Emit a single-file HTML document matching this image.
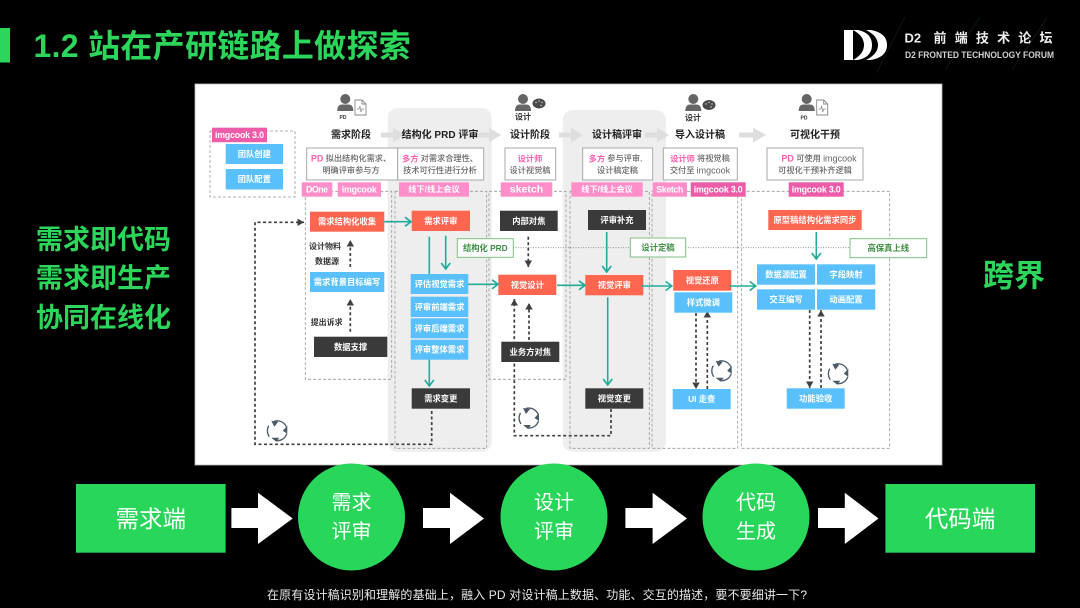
<!DOCTYPE html>
<html lang="zh">
<head>
<meta charset="utf-8">
<title>1.2 站在产研链路上做探索</title>
<style>
html,body{margin:0;padding:0;background:#000;width:1080px;height:608px;overflow:hidden}
svg{display:block}
text{font-family:"Liberation Sans","Noto Sans CJK SC",sans-serif;text-anchor:middle;dominant-baseline:central}
.n{font-size:8.3px;font-weight:700;fill:#fff}
.h{font-size:10px;font-weight:700;fill:#222}
.d{font-size:8.200px;fill:#666;font-weight:500}
.p{fill:#ff5fae;font-weight:700}
.l{font-size:9px}
.t{font-size:8.200px;font-weight:700;fill:#fff}
.tm{font-size:8.800px;font-weight:700;fill:#fff}
.g{font-size:8.3px;font-weight:700;fill:#3c8c42}
.k{font-size:8px;font-weight:700;fill:#333}
.big{font-weight:700;fill:#2bd65b}
.w{font-size:20px;fill:#fff}
.r{fill:#ff6650}.b{fill:#5ac0fb}.x{fill:#3a3a3a}
.tl{fill:#ff8fcb}.td{fill:#ec5ca8}
.dash{fill:none;stroke:#999;stroke-width:.8;stroke-dasharray:3 2}
.teal{fill:none;stroke:#22ab9b;stroke-width:1.6}
.bk{fill:none;stroke:#404040;stroke-width:1.7;stroke-dasharray:3 2.5}
.box{fill:#fff;stroke:#a8a8a8;stroke-width:1}
.gb{fill:#fff;stroke:#7fbd84;stroke-width:1}
</style>
</head>
<body>
<svg width="1080" height="608" viewBox="0 0 1080 608" xmlns="http://www.w3.org/2000/svg">
<defs>
<marker id="ta" markerUnits="userSpaceOnUse" markerWidth="12" markerHeight="14" refX="9" refY="6" orient="auto"><path d="M3,1.500 L9,6 L3,10.500" fill="none" stroke="#22ab9b" stroke-width="1.7"/></marker>
<marker id="ba" markerUnits="userSpaceOnUse" markerWidth="9" markerHeight="9" refX="6.500" refY="4" orient="auto"><path d="M0,0.300 L6.500,4 L0,7.700 Z" fill="#404040"/></marker>
<g id="cyc">
<path d="M-3,-9.500 A10,10 0 0 1 9,-4 M9.500,3 A10,10 0 0 1 -1,10 M-8,6 A10,10 0 0 1 -8.500,-5" fill="none" stroke="#4a5a68" stroke-width="1.300"/>
<path d="M-6,-10 L1,-9 L-3,-4 Z M10,-5 L10,3 L5.500,0 Z M-6,7 L2,7 L-1,11 Z" fill="#4a5a68"/>
</g>
<g id="person">
<circle cx="0" cy="0" r="5" fill="#666"/>
<path d="M-8,12 Q-8,5.500 -3,5.500 L3,5.500 Q8,5.500 8,12 Z" fill="#666"/>
</g>
<g id="doc">
<path d="M0,0 H7 L11,4 V15 H0 Z M7,0 V4 H11" fill="#fff" stroke="#888" stroke-width=".9"/>
<path d="M2,9 H4 L5,6 L6,12 L7,9 H9" fill="none" stroke="#888" stroke-width=".7"/>
</g>
<g id="pal">
<ellipse cx="0" cy="0" rx="6.500" ry="5" fill="#484848"/>
<circle cx="-3" cy="-1" r=".7" fill="#ddd"/><circle cx="0" cy="-2.500" r=".7" fill="#ddd"/><circle cx="3" cy="-1" r=".7" fill="#ddd"/><circle cx="2" cy="2" r=".7" fill="#ddd"/>
</g>
<path id="ga" d="M0,-2.500 H12 V-7.500 L24,0 L12,7.500 V2.500 H0 Z" fill="#dedede"/>
</defs>

<rect width="1080" height="608" fill="#000"/>

<!-- title -->
<rect x="0" y="28" width="10" height="34.500" fill="#2bd65b"/>
<text x="33.500" y="46" class="big" font-size="32" letter-spacing=".3" style="text-anchor:start">1.2 站在产研链路上做探索</text>

<!-- logo -->
<g stroke="#0e2119" stroke-width=".7"><line x1="905" y1="17" x2="877" y2="72"/><line x1="980" y1="17" x2="945" y2="70"/><line x1="1047" y1="18" x2="1012" y2="70"/></g>
<path d="M844,30 H853 V60 H844 Z" fill="#fff"/>
<path d="M853,30 H858 Q872,33 872,45 Q872,57 858,60 H853 Q864,54 864,45 Q864,36 853,30 Z" fill="#fff"/>
<path d="M866,30 H871 Q887,33 887,45 Q887,57 871,60 H866 Q878,54 878,45 Q878,36 866,30 Z" fill="#fff"/>
<text x="904.500" y="38" font-size="13" font-weight="700" fill="#eee" style="text-anchor:start">D2</text>
<text x="933.500" y="38" font-size="13" font-weight="700" fill="#eee" letter-spacing="8.200" style="text-anchor:start">前端技术论坛</text>
<text x="905" y="55" font-size="8.800" font-weight="700" fill="#d0d0d0" style="text-anchor:start" textLength="149" lengthAdjust="spacingAndGlyphs">D2 FRONTED TECHNOLOGY FORUM</text>

<!-- side text -->
<text x="103.500" y="240" class="big" font-size="27">需求即代码</text>
<text x="103.500" y="278.500" class="big" font-size="27">需求即生产</text>
<text x="103.500" y="318" class="big" font-size="27">协同在线化</text>
<text x="1014" y="276" class="big" font-size="31">跨界</text>

<!-- panel -->
<g style="filter:blur(.35px)">
<rect x="195" y="84" width="747" height="381" fill="#fff" stroke="#bbb" stroke-width=".8"/>
<rect x="387.700" y="108" width="104" height="343.700" rx="10" fill="#eee"/>
<rect x="562.700" y="110" width="103.300" height="341.700" rx="10" fill="#eee"/>

<!-- dashed regions -->
<rect x="210" y="131" width="85" height="66" class="dash"/>
<rect x="305.300" y="191.300" width="86.400" height="188" class="dash"/>
<rect x="395" y="191.300" width="91.700" height="257" class="dash"/>
<rect x="489" y="191.300" width="77" height="188" class="dash"/>
<rect x="570" y="191.300" width="79.300" height="257" class="dash"/>
<rect x="652" y="191.300" width="85.700" height="257" class="dash"/>
<rect x="741.700" y="191.300" width="148" height="257" class="dash"/>

<!-- header arrows -->
<use href="#ga" x="381" y="135"/>
<use href="#ga" x="477" y="135"/>
<use href="#ga" x="559" y="135"/>
<use href="#ga" x="645" y="135"/>
<path d="M739,132.500 H753 V127.500 L766,135 L753,142.500 V137.500 H739 Z" fill="#dedede"/>

<!-- persons -->
<use href="#person" x="345.300" y="99"/><use href="#doc" x="355" y="100"/>
<text x="343" y="118" font-size="5" font-weight="700" fill="#333">PD</text>
<use href="#person" x="523" y="99"/><use href="#pal" x="539" y="103.500"/>
<text x="523" y="117" class="k">设计</text>
<use href="#person" x="693.300" y="99"/><use href="#pal" x="709" y="105"/>
<text x="693" y="118" class="k">设计</text>
<use href="#person" x="806.700" y="99"/><use href="#doc" x="816.700" y="100"/>
<text x="804" y="118.500" font-size="5" font-weight="700" fill="#333">PD</text>

<!-- headers -->
<text x="351" y="135.500" class="h">需求阶段</text>
<text x="440" y="135.500" class="h">结构化 PRD 评审</text>
<text x="530" y="135.500" class="h">设计阶段</text>
<text x="617" y="135.500" class="h">设计稿评审</text>
<text x="700" y="135.500" class="h">导入设计稿</text>
<text x="815" y="135.500" class="h">可视化干预</text>

<!-- description boxes -->
<rect x="306.700" y="148" width="91" height="32" class="box"/>
<rect x="397.700" y="148" width="86" height="32" class="box"/>
<rect x="505" y="148" width="50.700" height="32" class="box"/>
<rect x="582.700" y="148" width="70" height="32" class="box"/>
<rect x="663.300" y="148" width="74" height="32" class="box"/>
<rect x="767" y="148" width="96" height="32" class="box"/>
<text x="351" y="158.700" class="d"><tspan class="p l">PD</tspan> 拟出结构化需求、</text>
<text x="351" y="170.700" class="d">明确评审参与方</text>
<text x="440" y="158.700" class="d"><tspan class="p">多方</tspan> 对需求合理性、</text>
<text x="440" y="170.700" class="d">技术可行性进行分析</text>
<text x="530" y="158.700" class="d"><tspan class="p">设计师</tspan></text>
<text x="530" y="170.700" class="d">设计视觉稿</text>
<text x="615.500" y="158.700" class="d"><tspan class="p">多方</tspan> 参与评审,</text>
<text x="617.500" y="170.700" class="d">设计稿定稿</text>
<text x="700" y="158.700" class="d"><tspan class="p">设计师</tspan> 将视觉稿</text>
<text x="700" y="170.700" class="d">交付至 <tspan class="l">imgcook</tspan></text>
<text x="819" y="158.700" class="d"><tspan class="p l">PD</tspan> 可使用 <tspan class="l">imgcook</tspan></text>
<text x="815" y="170.700" class="d">可视化干预补齐逻辑</text>

<!-- tags -->
<rect x="212" y="127.700" width="55" height="14.500" class="td"/><text x="239.500" y="135" class="tm" textLength="49">imgcook 3.0</text>
<rect x="301.700" y="182.300" width="30.600" height="14.400" class="tl"/><text x="317" y="189.500" class="tm" textLength="22">DOne</text>
<rect x="337.700" y="182.300" width="43.300" height="14.400" class="tl"/><text x="359.300" y="189.500" class="tm" textLength="35">imgcook</text>
<rect x="399" y="182.300" width="70" height="14.400" class="tl"/><text x="434" y="189.500" class="t">线下/线上会议</text>
<rect x="500.700" y="182.300" width="51.600" height="14.400" class="tl"/><text x="526.500" y="189.500" font-size="10.500" font-weight="700" fill="#fff">sketch</text>
<rect x="571.300" y="182.300" width="71.400" height="14.400" class="tl"/><text x="607" y="189.500" class="t">线下/线上会议</text>
<rect x="652.700" y="182.300" width="34.300" height="14.400" class="tl"/><text x="669.800" y="189.500" class="tm" textLength="27">Sketch</text>
<rect x="690.700" y="182.300" width="55" height="14.400" class="td"/><text x="718.200" y="189.500" class="tm" textLength="49">imgcook 3.0</text>
<rect x="788.700" y="182.300" width="55" height="14.400" class="td"/><text x="816.200" y="189.500" class="tm" textLength="49">imgcook 3.0</text>

<!-- dotted baseline + green labels -->
<line x1="513" y1="247.700" x2="850" y2="247.700" stroke="#888" stroke-width=".8" stroke-dasharray="1 1.500"/>
<rect x="457.300" y="238.700" width="56" height="18.600" class="gb"/><text x="485.300" y="248" class="g">结构化 PRD</text>
<rect x="630.300" y="238" width="55.400" height="19" class="gb"/><text x="658" y="247.500" class="g">设计定稿</text>
<rect x="850" y="238.700" width="76.700" height="19" class="gb"/><text x="888.300" y="248.200" class="g">高保真上线</text>

<!-- black dashed connectors -->
<path d="M431.700,411 V444.300 H255 V222.300 H304" class="bk" marker-end="url(#ba)"/>
<path d="M350.300,267 V240" class="bk" marker-end="url(#ba)"/>
<path d="M350.300,331.700 V299" class="bk" marker-end="url(#ba)"/>
<path d="M528.300,236.700 V267" class="bk" marker-end="url(#ba)"/>
<path d="M529,340 V303" class="bk" marker-end="url(#ba)"/>
<path d="M611,409 V435.700 H514.300 V299" class="bk" marker-end="url(#ba)"/>
<path d="M696,313 V389" class="bk" marker-end="url(#ba)"/>
<path d="M707.300,389 V311" class="bk" marker-end="url(#ba)"/>
<path d="M809.700,310 V388" class="bk" marker-end="url(#ba)"/>
<path d="M821,388 V310" class="bk" marker-end="url(#ba)"/>

<!-- nodes -->
<rect x="310" y="211.700" width="74.300" height="20" class="r"/><text x="347" y="221.700" class="n">需求结构化收集</text>
<rect x="411.700" y="210.700" width="58.300" height="20.300" class="r"/><text x="440.800" y="220.800" class="n">需求评审</text>
<rect x="500" y="210.700" width="57.700" height="20.300" class="x"/><text x="528.800" y="220.800" class="n">内部对焦</text>
<rect x="588" y="210" width="58" height="20" class="x"/><text x="617" y="220" class="n">评审补充</text>
<rect x="768.300" y="210" width="93.400" height="20" class="r"/><text x="815" y="220" class="n">原型稿结构化需求同步</text>
<rect x="225.700" y="144" width="57.300" height="20" class="b"/><text x="254.300" y="154" class="n">团队创建</text>
<rect x="225.700" y="169" width="57.300" height="20.500" class="b"/><text x="254.300" y="179.200" class="n">团队配置</text>
<rect x="310" y="272" width="74.300" height="20" class="b"/><text x="347" y="282" class="n">需求背景目标编写</text>
<rect x="314" y="336.700" width="73.300" height="20.300" class="x"/><text x="350.600" y="347" class="n">数据支撑</text>

<line x1="429.300" y1="236.700" x2="429.300" y2="274" stroke="#22ab9b" stroke-width="1.600"/>
<line x1="429.300" y1="359" x2="429.300" y2="386" stroke="#22ab9b" stroke-width="1.600" marker-end="url(#ta)"/>
<rect x="410.700" y="274" width="57.600" height="20" class="b"/><text x="439.500" y="284" class="n">评估视觉需求</text>
<rect x="410.700" y="296.700" width="57.600" height="20.300" class="b"/><text x="439.500" y="306.800" class="n">评审前端需求</text>
<rect x="410.700" y="318.300" width="57.600" height="20" class="b"/><text x="439.500" y="328.300" class="n">评审后端需求</text>
<rect x="410.700" y="339.700" width="57.600" height="20" class="b"/><text x="439.500" y="349.700" class="n">评审整体需求</text>
<rect x="411.700" y="388.300" width="58.300" height="20.400" class="x"/><text x="440.800" y="398.500" class="n">需求变更</text>

<rect x="498.300" y="274.700" width="58" height="20.300" class="r"/><text x="527.300" y="284.800" class="n">视觉设计</text>
<rect x="501.300" y="341.700" width="58" height="20.300" class="x"/><text x="530.300" y="351.800" class="n">业务方对焦</text>
<rect x="585.300" y="275" width="58" height="20.300" class="r"/><text x="614.300" y="285.100" class="n">视觉评审</text>
<rect x="585.300" y="388.300" width="58" height="20.400" class="x"/><text x="614.300" y="398.500" class="n">视觉变更</text>
<rect x="673.300" y="270" width="58" height="20.700" class="r"/><text x="702.300" y="280.300" class="n">视觉还原</text>
<rect x="674.300" y="292.300" width="58" height="20.400" class="b"/><text x="703.300" y="302.500" class="n">样式微调</text>
<rect x="672.700" y="389" width="58" height="20.300" class="b"/><text x="701.700" y="399.100" class="n">UI 走查</text>
<rect x="757" y="264.300" width="58" height="20.400" class="b"/><text x="786" y="274.500" class="n">数据源配置</text>
<rect x="817" y="264.300" width="58.300" height="20.400" class="b"/><text x="846" y="274.500" class="n">字段映射</text>
<rect x="757" y="289.300" width="58" height="20.400" class="b"/><text x="786" y="299.500" class="n">交互编写</text>
<rect x="817" y="289.300" width="58.300" height="20.400" class="b"/><text x="846" y="299.500" class="n">动画配置</text>
<rect x="786.700" y="388.300" width="58" height="20.400" class="b"/><text x="815.700" y="398.500" class="n">功能验收</text>

<!-- teal arrows -->
<path d="M384.300,221.700 H411" class="teal" marker-end="url(#ta)"/>
<path d="M445.700,235.700 V269" class="teal" marker-end="url(#ta)"/>
<path d="M468.300,284.300 H498" class="teal" marker-end="url(#ta)"/>
<path d="M557,285.300 H585" class="teal" marker-end="url(#ta)"/>
<path d="M606.700,232 V272" class="teal" marker-end="url(#ta)"/>
<path d="M641,286 H671.700" class="teal" marker-end="url(#ta)"/>
<path d="M607.700,297.300 V385" class="teal" marker-end="url(#ta)"/>
<path d="M729,286 H755.700" class="teal" marker-end="url(#ta)"/>
<path d="M816.300,232 V259" class="teal" marker-end="url(#ta)"/>

<!-- plain labels -->
<text x="325" y="246.700" class="k">设计物料</text>
<text x="327" y="261.700" class="k">数据源</text>
<text x="326.700" y="322.700" class="k">提出诉求</text>

<!-- cycles -->
<use href="#cyc" x="277.300" y="430.700"/>
<use href="#cyc" x="529" y="418"/>
<use href="#cyc" x="721.700" y="370.700"/>
<use href="#cyc" x="838.300" y="373.700"/>
</g>

<!-- bottom flow -->
<rect x="76" y="484" width="149.600" height="68.700" fill="#28d65a"/>
<text x="150.800" y="519" font-size="23.500" fill="#fff">需求端</text>
<path d="M231.400,508 H258 V492.700 L292.700,518.500 L258,544 V528 H231.400 Z" fill="#fff"/>
<circle cx="351.500" cy="517" r="53.500" fill="#28d65a"/>
<text x="351.500" y="503" class="w">需求</text>
<text x="351.500" y="532" class="w">评审</text>
<path d="M423,508 H450 V492.700 L484,518.500 L450,544 V528 H423 Z" fill="#fff"/>
<circle cx="554" cy="517" r="53.500" fill="#28d65a"/>
<text x="554" y="503" class="w">设计</text>
<text x="554" y="532" class="w">评审</text>
<path d="M625.400,508 H652.600 V492.700 L687,518.500 L652.600,544 V528 H625.400 Z" fill="#fff"/>
<circle cx="756" cy="517" r="53.500" fill="#28d65a"/>
<text x="756" y="503" class="w">代码</text>
<text x="756" y="532" class="w">生成</text>
<path d="M818,508 H844.800 V492.700 L878.500,518.500 L844.800,544 V528 H818 Z" fill="#fff"/>
<rect x="885.400" y="484" width="149.600" height="68.700" fill="#28d65a"/>
<text x="960" y="519" font-size="23.500" fill="#fff">代码端</text>

<text x="537" y="595" font-size="12" fill="#e8e8e8" textLength="540" lengthAdjust="spacing">在原有设计稿识别和理解的基础上，融入 PD 对设计稿上数据、功能、交互的描述，要不要细讲一下?</text>
</svg>
</body>
</html>
